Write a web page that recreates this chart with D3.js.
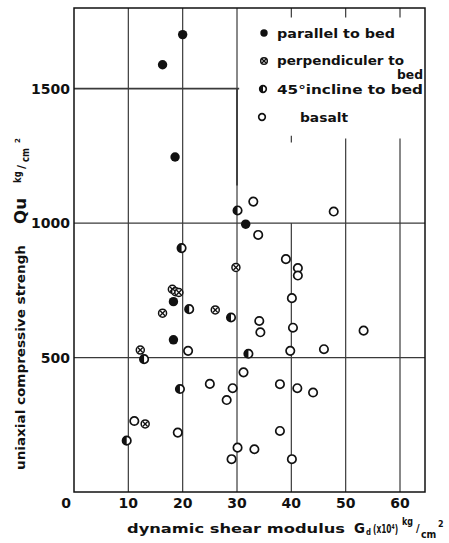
<!DOCTYPE html>
<html>
<head>
<meta charset="utf-8">
<script src="https://cdn.jsdelivr.net/npm/d3@7"></script>
<style>
html,body{margin:0;padding:0;background:#fff;}
svg{display:block;}
text{font-family:"DejaVu Sans",sans-serif;font-weight:bold;fill:#111;}
</style>
</head>
<body>
<svg id="chart" width="449" height="543"></svg>
<script>
// ---- data ----
const parallelG = [20.0, 16.3, 18.6, 31.6, 18.3, 18.3];
const parallelQ = [1701, 1589, 1246, 996, 708, 566];

const perpG = [18.1, 18.7, 19.3, 16.3, 26.0, 29.8, 12.2, 13.1];
const perpQ = [754, 745, 742, 665, 677, 835, 528, 253];

const inclineG = [30.1, 19.8, 21.2, 28.9, 12.9, 32.1, 19.5, 9.7];
const inclineQ = [1047, 907, 680, 649, 494, 514, 383, 191];

const basaltG = [33.0, 33.9, 47.8, 39.0, 41.2, 41.2, 40.1, 34.1, 34.3, 40.3, 53.3, 39.8, 46.0, 21.0,
                 25.0, 29.2, 28.1, 31.2, 37.9, 41.1, 44.0, 37.9, 11.1, 19.1, 30.1, 33.2, 29.0, 40.1];
const basaltQ = [1080, 956, 1043, 866, 833, 805, 721, 636, 594, 611, 600, 525, 531, 525,
                 402, 386, 342, 445, 401, 386, 370, 227, 264, 221, 165, 159, 122, 122];

const xTicks = [0, 10, 20, 30, 40, 50, 60];
const yTicks = [500, 1000, 1500];
const legendLabels = ["parallel to bed", "perpendiculer to", "45°incline to bed", "basalt"];

// ---- scales ----
const svg = d3.select("#chart");
const x = d3.scaleLinear().domain([0, 64.6]).range([74, 425]);
const y = d3.scaleLinear().domain([0, 1800]).range([492, 8]);
const ink = "#111";
const gridCol = "#3a3a3a";

// ---- grid ----
const g = svg.append("g").attr("stroke", gridCol).attr("stroke-width", 1.2).attr("fill", "none");
[10, 20, 30].forEach(v => g.append("line").attr("x1", x(v)).attr("x2", x(v)).attr("y1", y(1800)).attr("y2", y(0)));
g.append("line").attr("x1", x(40)).attr("x2", x(40)).attr("y1", y(1000)).attr("y2", y(0));
g.append("line").attr("x1", x(40)).attr("x2", x(40)).attr("y1", y(1325)).attr("y2", y(1300));
[50, 60].forEach(v => g.append("line").attr("x1", x(v)).attr("x2", x(v)).attr("y1", y(1315)).attr("y2", y(0)));
[40, 50, 60].forEach(v => g.append("line").attr("x1", x(v)).attr("x2", x(v)).attr("y1", y(1800)).attr("y2", y(1765)));
[500, 1000].forEach(v => g.append("line").attr("x1", x(0)).attr("x2", x(64.6)).attr("y1", y(v)).attr("y2", y(v)));
g.append("line").attr("x1", x(0)).attr("x2", x(30.4)).attr("y1", y(1500)).attr("y2", y(1500)).attr("stroke-width", 1.8);
g.append("line").attr("x1", x(30)).attr("x2", x(30)).attr("y1", y(1500)).attr("y2", y(1140)).attr("stroke-width", 1.8);

// ---- frame ----
svg.append("rect").attr("x", x(0)).attr("y", y(1800)).attr("width", x(64.6) - x(0)).attr("height", y(0) - y(1800))
  .attr("fill", "none").attr("stroke", ink).attr("stroke-width", 1.5);

// ---- axis tick labels ----
svg.selectAll("text.xt").data(xTicks).enter().append("text")
  .attr("class", "xt")
  .attr("x", d => d === 0 ? x(0) - 8 : x(d))
  .attr("y", 508)
  .attr("text-anchor", "middle")
  .attr("font-size", 14)
  .text(d => d);
svg.selectAll("text.yt").data(yTicks).enter().append("text")
  .attr("class", "yt")
  .attr("x", 70)
  .attr("y", d => y(d) + 5)
  .attr("text-anchor", "end")
  .attr("font-size", 14)
  .text(d => d);

// ---- axis titles ----
function txt(parent, s, px, py, size, len) {
  const t = parent.append("text").attr("x", px).attr("y", py).attr("font-size", size).text(s);
  if (len) t.attr("textLength", len).attr("lengthAdjust", "spacingAndGlyphs");
  return t;
}
function stxt(parent, s, px, py, size, sx) {
  return parent.append("text").attr("transform", `translate(${px},${py}) scale(${sx},1)`)
    .attr("font-size", size).text(s);
}
txt(svg, "dynamic shear modulus", 127, 533, 13, 218);
txt(svg, "G", 354, 533, 14, 11);
txt(svg, "d", 366, 535, 9, 5);
stxt(svg, "(x10⁴)", 373, 533, 12, 0.62);
stxt(svg, "kg", 402, 525, 10, 0.8);
txt(svg, "/", 416, 532, 10);
stxt(svg, "cm", 421, 538, 11, 0.85);
txt(svg, "2", 438, 527, 8);

const ytg = svg.append("g").attr("transform", "translate(25,470) rotate(-90)");
txt(ytg, "uniaxial compressive strengh", 0, 0, 13, 225);
txt(ytg, "Qu", 246, 1, 15, 26);
stxt(ytg, "kg", 287, -4, 10, 0.85);
txt(ytg, "/", 301, 0, 11);
stxt(ytg, "cm", 308, 4, 10, 0.85);
txt(ytg, "2", 327, -5, 7);

// ---- marker drawing ----
function drawMarker(sel, type, r) {
  if (type === "parallel") {
    sel.append("circle").attr("r", r + 0.4).attr("fill", ink);
  } else if (type === "basalt") {
    sel.append("circle").attr("r", r).attr("fill", "#fff").attr("stroke", ink).attr("stroke-width", 1.7);
  } else if (type === "perp") {
    sel.append("circle").attr("r", r).attr("fill", "#fff").attr("stroke", ink).attr("stroke-width", 1.5);
    const k = r * 0.62;
    sel.append("line").attr("x1", -k).attr("y1", -k).attr("x2", k).attr("y2", k).attr("stroke", ink).attr("stroke-width", 1.3);
    sel.append("line").attr("x1", -k).attr("y1", k).attr("x2", k).attr("y2", -k).attr("stroke", ink).attr("stroke-width", 1.3);
  } else if (type === "incline") {
    sel.append("circle").attr("r", r).attr("fill", "#fff").attr("stroke", ink).attr("stroke-width", 1.7);
    sel.append("path").attr("d", `M0,${-r} A${r},${r} 0 0 0 0,${r} Z`).attr("fill", ink);
  }
}

function drawSeries(gs, qs, type, r) {
  const pts = gs.map((v, i) => ({g: v, q: qs[i]}));
  svg.append("g").selectAll("g").data(pts).enter().append("g")
    .attr("transform", d => `translate(${x(d.g)},${y(d.q)})`)
    .each(function () { drawMarker(d3.select(this), type, r); });
}

drawSeries(basaltG, basaltQ, "basalt", 4.2);
drawSeries(inclineG, inclineQ, "incline", 4.2);
drawSeries(perpG, perpQ, "perp", 4.0);
drawSeries(parallelG, parallelQ, "parallel", 4.3);

// ---- legend ----
const legTypes = ["parallel", "perp", "incline", "basalt"];
const legMarkerPos = [[264, 33], [264, 61], [263, 89], [262, 117]];
const legTextPos = [[277, 38, 118], [277, 65, 127], [277, 94, 146], [300, 122, 48]];
legTypes.forEach((t, i) => {
  const m = svg.append("g").attr("transform", `translate(${legMarkerPos[i][0]},${legMarkerPos[i][1]})`);
  drawMarker(m, t, 3.3);
  txt(svg, legendLabels[i], legTextPos[i][0], legTextPos[i][1], 13, legTextPos[i][2]);
});
txt(svg, "bed", 397, 79, 13, 26);
</script>
</body>
</html>
